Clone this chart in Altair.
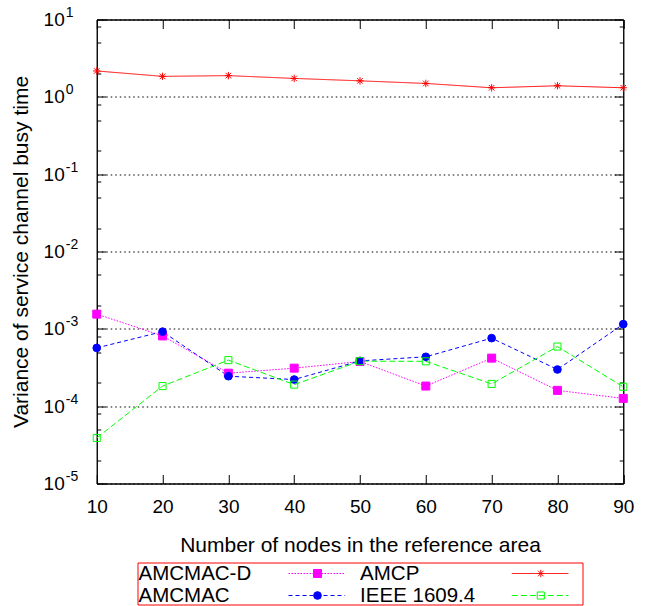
import altair as alt
import pandas as pd

# ---------------- data ----------------
nodes = [10, 20, 30, 40, 50, 60, 70, 80, 90]
series_names = ["AMCMAC-D", "AMCMAC", "AMCP", "IEEE 1609.4"]
amcmac_d = [1.55e-3, 8.1e-4, 2.67e-4, 3.1e-4, 3.78e-4, 1.82e-4, 4.18e-4, 1.6e-4, 1.26e-4]
amcmac = [5.67e-4, 9.2e-4, 2.44e-4, 2.21e-4, 3.85e-4, 4.35e-4, 7.58e-4, 2.98e-4, 1.15e-3]
amcp = [2.16, 1.84, 1.88, 1.73, 1.61, 1.49, 1.31, 1.39, 1.31]
ieee = [3.88e-5, 1.82e-4, 3.94e-4, 1.9e-4, 3.82e-4, 3.8e-4, 1.94e-4, 5.9e-4, 1.78e-4]

x_ticks = [10, 20, 30, 40, 50, 60, 70, 80, 90]
y_exponents = [-5, -4, -3, -2, -1, 0, 1]
y_minor_mult = [2, 5, 8]
x_title = "Number of nodes in the reference area"
y_title = "Variance of service channel busy time"

# ---------------- styles ----------------
FONT = "Liberation Sans"
colors = ["#ff00ff", "#0000ff", "#ff0000", "#00ff00"]
dashes = [[1.5, 1.5], [4, 3], [1, 0], [6, 3]]
STAR = "M-1,0L1,0M0,-1L0,1M-0.75,-0.75L0.75,0.75M-0.75,0.75L0.75,-0.75"
shapes = ["square", "circle", STAR, "square"]
fills = ["#ff00ff", "#0000ff", "transparent", "transparent"]
sizes = [64, 50, 110, 62]
point_widths = [1, 1, 1.4, 1]

rows = []
for name, vals in zip(series_names, [amcmac_d, amcmac, amcp, ieee]):
    for n, v in zip(nodes, vals):
        rows.append({"series": name, "nodes": n, "value": v})
df = pd.DataFrame(rows)

y_major = [10.0 ** e for e in y_exponents]
y_values = list(y_major)
for e in y_exponents[:-1]:
    for m in y_minor_mult:
        y_values.append(m * 10.0 ** e)
y_values = sorted(y_values)

LOGV = "(log(datum.value)/LN10)"
MAJ = f"(abs({LOGV} - round({LOGV})) < 1e-6)"

xscale = alt.Scale(domain=[10, 90], nice=False, zero=False)
yscale = alt.Scale(type="log", domain=[1e-5, 10], nice=False)

common_axis = dict(domainColor="black", domainWidth=1, tickColor="black", tickWidth=1,
                   labelFont=FONT, labelColor="black", titleFont=FONT, titleColor="black",
                   titleFontWeight="normal")

y_left = alt.Axis(orient="left", values=y_values, labelExpr=f"{MAJ} ? '10' : ''",
                  tickSize=alt.ExprRef(expr=f"{MAJ} ? -9 : -4"),
                  labelFontSize=19, labelPadding=41.5, labelFlush=False,
                  grid=True, gridColor="black", gridDash=[1.5, 3], gridWidth=1,
                  gridOpacity=alt.ExprRef(expr=f"{MAJ} ? 1 : 0"),
                  title=y_title, titleFontSize=21, titlePadding=12, **common_axis)
x_bottom = alt.Axis(orient="bottom", values=x_ticks, tickSize=alt.ExprRef(expr="-9"),
                    labelFontSize=19, labelPadding=23, labelFlush=False, grid=False,
                    title=x_title, titleFontSize=21, titlePadding=18, **common_axis)
y_right = alt.Axis(orient="right", values=y_values, labels=False, grid=False, title=None,
                   tickSize=alt.ExprRef(expr=f"{MAJ} ? -9 : -4"), **common_axis)
x_top = alt.Axis(orient="top", values=x_ticks, labels=False, grid=False, title=None,
                 tickSize=alt.ExprRef(expr="-9"), **common_axis)
# exponent part of the "10^n" tick labels
y_exp = alt.Axis(orient="left", values=y_major, labelExpr=f"round({LOGV}) + ''",
                 ticks=False, domain=False, grid=False, title=None,
                 labelFont=FONT, labelColor="black", labelFontSize=14,
                 labelAlign="left", labelBaseline="middle", labelPadding=31.5,
                 labelOffset=-7, labelFlush=False)

stroke_enc = alt.Stroke("series:N", scale=alt.Scale(domain=series_names, range=colors), legend=None)
dash_enc = alt.StrokeDash("series:N", scale=alt.Scale(domain=series_names, range=dashes), legend=None)
fill_enc = alt.Fill("series:N", scale=alt.Scale(domain=series_names, range=fills), legend=None)
shape_enc = alt.Shape("series:N", scale=alt.Scale(domain=series_names, range=shapes), legend=None)
size_enc = alt.Size("series:O", scale=alt.Scale(domain=series_names, range=sizes), legend=None)
sw_enc = alt.StrokeWidth("series:O", scale=alt.Scale(domain=series_names, range=point_widths),
                         legend=None)

lines = alt.Chart(df).mark_line(strokeWidth=1).encode(
    x=alt.X("nodes:Q", scale=xscale, axis=x_bottom),
    y=alt.Y("value:Q", scale=yscale, axis=y_left),
    stroke=stroke_enc, strokeDash=dash_enc,
)
points = alt.Chart(df).mark_point(filled=False, opacity=1, fillOpacity=1).encode(
    x=alt.X("nodes:Q", scale=xscale, axis=x_bottom),
    y=alt.Y("value:Q", scale=yscale, axis=y_left),
    stroke=stroke_enc, fill=fill_enc, shape=shape_enc, size=size_enc, strokeWidth=sw_enc,
)
mirror = alt.Chart(df).mark_point(opacity=0).encode(
    x=alt.X("nodes:Q", scale=xscale, axis=x_top),
    y=alt.Y("value:Q", scale=yscale, axis=y_right),
)
exp_layer = alt.Chart(df).mark_point(opacity=0).encode(
    x=alt.X("nodes:Q", scale=xscale, axis=None),
    y=alt.Y("value:Q", scale=yscale, axis=y_exp),
)

main = alt.layer(alt.layer(lines, points), mirror, exp_layer).resolve_axis(
    x="independent", y="independent"
).properties(width=526.5, height=464, view=alt.ViewBackground(stroke="black", strokeWidth=1))

# ---------------- custom legend ----------------
leg_df = pd.DataFrame({"series": series_names, "col": [0, 0, 1, 1], "row": [0, 1, 0, 1]})
LW, LH = 445, 42
lxs = alt.Scale(domain=[0, LW], nice=False, zero=False)
lys = alt.Scale(domain=[0, LH], nice=False, zero=False, reverse=True)
leg_base = alt.Chart(leg_df).transform_calculate(
    tx="1 + datum.col * 221.6",
    ty="17 + datum.row * 22.7",
    lx1="151 + datum.col * 223.3",
    lx2="151 + datum.col * 223.3 + 56.6",
    mx="151 + datum.col * 223.3 + 29",
    my="11 + datum.row * 22",
)
leg_text = leg_base.mark_text(align="left", baseline="alphabetic", font=FONT,
                              fontSize=20.5, color="black").encode(
    x=alt.X("tx:Q", scale=lxs, axis=None),
    y=alt.Y("ty:Q", scale=lys, axis=None),
    text="series:N",
)
leg_rule = leg_base.mark_rule(strokeWidth=1).encode(
    x=alt.X("lx1:Q", scale=lxs, axis=None), x2="lx2:Q",
    y=alt.Y("my:Q", scale=lys, axis=None),
    stroke=stroke_enc, strokeDash=dash_enc,
)
leg_pts = leg_base.mark_point(filled=False, opacity=1, fillOpacity=1).encode(
    x=alt.X("mx:Q", scale=lxs, axis=None),
    y=alt.Y("my:Q", scale=lys, axis=None),
    stroke=stroke_enc, fill=fill_enc, shape=shape_enc, size=size_enc, strokeWidth=sw_enc,
)
legend = alt.layer(leg_rule, leg_pts, leg_text).properties(
    width=LW, height=LH, view=alt.ViewBackground(stroke="#ff0000", strokeWidth=1)
)

chart = alt.vconcat(main, legend, spacing=79, bounds="flush", center=True).properties(
    padding={"left": 9.5, "top": 4.5, "right": 5, "bottom": 2},
    background="white",
)

chart.save("out.html", embed_options={"renderer": "svg", "actions": False})
